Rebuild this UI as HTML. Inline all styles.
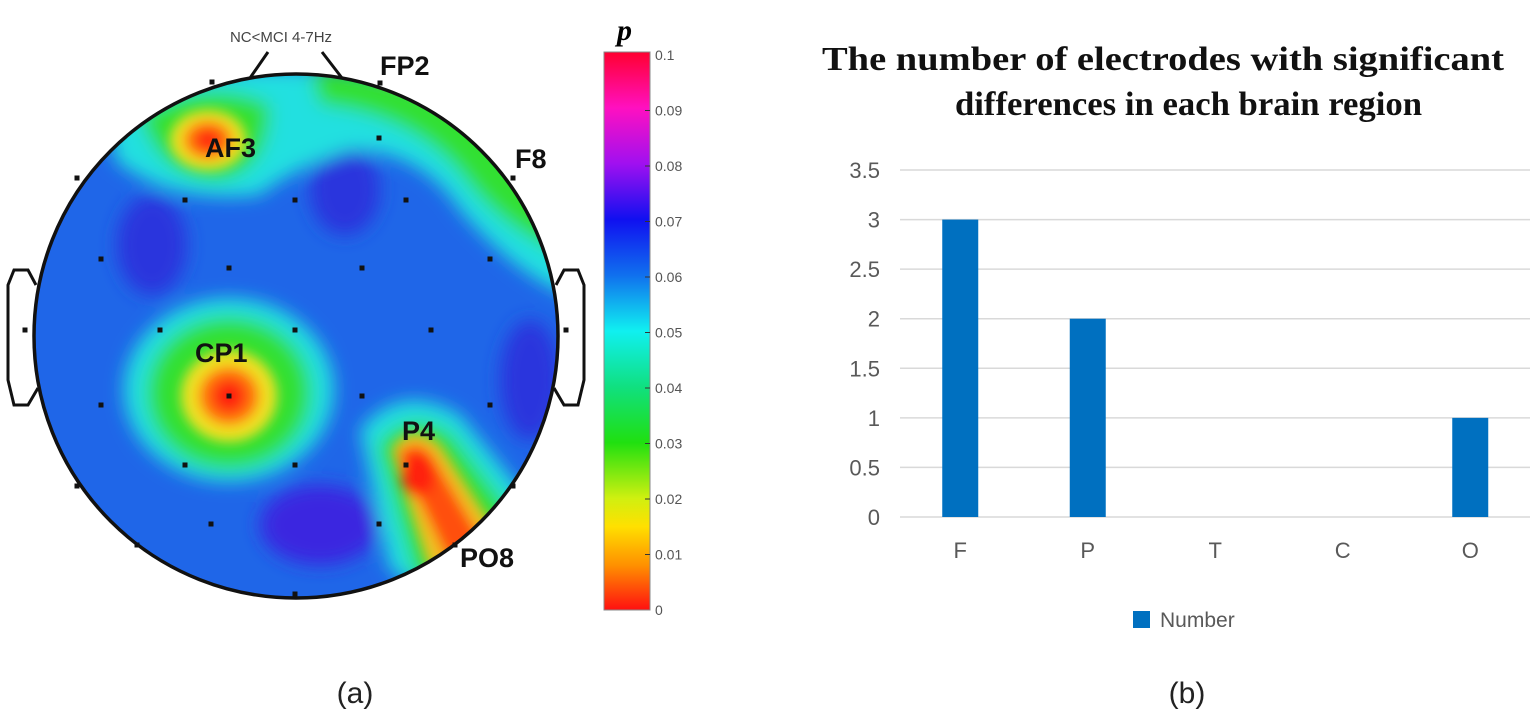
<!DOCTYPE html>
<html><head><meta charset="utf-8">
<style>
body{margin:0;background:#fff;width:1535px;height:727px;overflow:hidden;position:relative;font-family:"Liberation Sans",sans-serif}
svg{position:absolute;left:0;top:0}
</style></head>
<body>
<svg width="1535" height="727">
<defs>
<clipPath id="head"><circle cx="296" cy="336" r="262"/></clipPath>
<filter id="b1" x="-50%" y="-50%" width="200%" height="200%"><feGaussianBlur stdDeviation="9"/></filter>
<filter id="b2" x="-50%" y="-50%" width="200%" height="200%"><feGaussianBlur stdDeviation="6"/></filter>
<linearGradient id="cbar" x1="0" y1="0" x2="0" y2="1">
<stop offset="0" stop-color="#ff0030"/><stop offset="0.1" stop-color="#ff10c0"/><stop offset="0.2" stop-color="#a010f0"/>
<stop offset="0.3" stop-color="#1010f0"/><stop offset="0.4" stop-color="#1070ee"/><stop offset="0.5" stop-color="#10f0f0"/>
<stop offset="0.6" stop-color="#10e080"/><stop offset="0.7" stop-color="#20e010"/><stop offset="0.8" stop-color="#d0f010"/>
<stop offset="0.85" stop-color="#ffe000"/><stop offset="0.92" stop-color="#ff9000"/><stop offset="1" stop-color="#ff1010"/>
</linearGradient>
</defs>
<path d="M36,285 L28,270 L14,270 L8,285 L8,380 L14,405 L28,405 L38,388" fill="none" stroke="#111" stroke-width="3"/>
<path d="M556,285 L564,270 L578,270 L584,285 L584,380 L578,405 L564,405 L554,388" fill="none" stroke="#111" stroke-width="3"/>
<path d="M250,78 L268,52 M322,52 L342,78" stroke="#111" stroke-width="3" fill="none"/>
<g clip-path="url(#head)">
<rect x="30" y="70" width="540" height="540" fill="#1f66e8"/>
<g filter="url(#b1)">
<ellipse cx="152" cy="245" rx="35" ry="50" fill="#2a34dd"/>
<ellipse cx="345" cy="190" rx="35" ry="45" fill="#2a34dd"/>
<ellipse cx="320" cy="525" rx="60" ry="40" fill="#3a28e0"/>
<ellipse cx="530" cy="380" rx="30" ry="60" fill="#2a34dd"/>
<path d="M110,120 Q200,60 300,70 Q440,60 560,170 L580,300 Q520,280 460,210 Q420,150 350,150 Q290,170 260,195 Q170,205 115,160 Z" fill="#20e0e0"/>
<ellipse cx="229" cy="390" rx="105" ry="92" fill="#20e0e0"/>
<path d="M360,430 Q400,380 460,415 L545,520 L470,620 L390,570 Z" fill="#20e0e0"/>
<path d="M140,115 Q210,75 270,105 Q270,170 220,180 Q160,180 140,115 Z" fill="#30e030"/>
<path d="M310,70 Q430,65 545,160 L580,260 Q515,240 470,185 Q420,115 320,105 Z" fill="#30e030"/>
<ellipse cx="229" cy="393" rx="82" ry="76" fill="#30e030"/>
<path d="M378,445 Q410,405 452,435 L525,530 L460,610 L415,575 Z" fill="#30e030"/>
</g>
<g filter="url(#b2)">
<ellipse cx="208" cy="140" rx="38" ry="30" fill="#f0e020"/>
<ellipse cx="229" cy="396" rx="48" ry="46" fill="#f0e020"/>
<path d="M392,450 Q410,420 440,445 L505,545 L460,595 L428,565 Z" fill="#f0c020"/>
<path d="M380,80 Q460,95 525,165 L570,210 L560,140 L450,65 Z" fill="#f0b020"/>
<path d="M420,70 L560,150 L570,120 L450,50 Z" fill="#ff3010"/>
<ellipse cx="208" cy="140" rx="24" ry="19" fill="#ff7010"/>
<ellipse cx="229" cy="396" rx="30" ry="29" fill="#ff7010"/>
<path d="M398,455 Q415,435 432,455 L485,545 L455,575 Z" fill="#ff5010"/>
<ellipse cx="208" cy="140" rx="12" ry="10" fill="#ff2010"/>
<ellipse cx="229" cy="396" rx="16" ry="16" fill="#ff2010"/>
<ellipse cx="418" cy="475" rx="17" ry="22" fill="#ff2010"/>
</g>
</g>
<circle cx="296" cy="336" r="262" fill="none" stroke="#111" stroke-width="3.5"/>
<g id="dots"></g>
<g font-family="Liberation Sans" font-weight="bold" font-size="27" fill="#111">
<text x="205" y="157">AF3</text>
<text x="380" y="75">FP2</text>
<text x="515" y="168">F8</text>
<text x="195" y="362">CP1</text>
<text x="402" y="440">P4</text>
<text x="460" y="567">PO8</text>
</g>
<text x="281" y="42" font-size="15" fill="#444" text-anchor="middle">NC&lt;MCI 4-7Hz</text>
<text x="617" y="40" font-family="Liberation Serif" font-style="italic" font-weight="bold" font-size="30">p</text>
<rect x="604" y="52" width="46" height="558" fill="url(#cbar)" stroke="#888"/>
<g id="cbticks" font-size="14" fill="#555"></g>
<text x="355" y="703" font-size="30" text-anchor="middle" fill="#222">(a)</text>
<g font-family="Liberation Serif" font-weight="bold" font-size="34" fill="#111">
<text x="822" y="70" textLength="682" lengthAdjust="spacingAndGlyphs">The number of electrodes with significant</text>
<text x="955" y="115" textLength="467" lengthAdjust="spacingAndGlyphs">differences in each brain region</text></g>
<g id="chart"></g>
<rect x="1133" y="611" width="17" height="17" fill="#0070c0"/>
<text x="1160" y="627" font-size="21" fill="#595959">Number</text>
<text x="1187" y="703" font-size="30" text-anchor="middle" fill="#222">(b)</text>
</svg>
<script>
const categories=["F","P","T","C","O"];
const values=[3,2,0,0,1];
const yTicks=[0,0.5,1,1.5,2,2.5,3,3.5];
const cbLabels=["0.1","0.09","0.08","0.07","0.06","0.05","0.04","0.03","0.02","0.01","0"];
const electrodes=[[212,82],[380,83],[379,138],[77,178],[185,200],[295,200],[406,200],[513,178],[101,259],[229,268],[362,268],[490,259],[25,330],[160,330],[295,330],[431,330],[566,330],[101,405],[229,396],[362,396],[490,405],[77,486],[185,465],[295,465],[406,465],[513,486],[211,524],[379,524],[137,545],[455,545],[295,594]];
const NS="http://www.w3.org/2000/svg";
function mk(t,a,p){const e=document.createElementNS(NS,t);for(const k in a)e.setAttribute(k,a[k]);p.appendChild(e);return e;}
const dg=document.getElementById('dots');
electrodes.forEach(p=>{const c=mk('rect',{x:p[0]-2.5,y:p[1]-2.5,width:5,height:5,fill:'#111'},dg);

});
const cb=document.getElementById('cbticks');
cbLabels.forEach((l,i)=>{const y=55+i*55.5;const t=mk('text',{x:655,y:y+5},cb);t.textContent=l;


if(i>0&&i<10){mk('line',{x1:645,x2:650,y1:y,y2:y,stroke:'#333'},cb);}});
const g=document.getElementById('chart');
const x0=896.5,bw=127.5,y0=517,yMax=3.5,yTop=170;
const Y=v=>y0-(v/yMax)*(y0-yTop);
const X=i=>x0+bw*(i+0.5);
yTicks.forEach(v=>{const l=mk('line',{x1:900,x2:1530,y1:Y(v),y2:Y(v),stroke:'#d9d9d9','stroke-width':1.5},g);


const t=mk('text',{x:880,y:Y(v)+8,'text-anchor':'end','font-size':22,fill:'#595959'},g);t.textContent=v;

});
categories.forEach((c,i)=>{const r=mk('rect',{x:X(i)-18,y:Y(values[i]),width:36,height:y0-Y(values[i]),fill:'#0070c0'},g);


const t=mk('text',{x:X(i),y:558,'text-anchor':'middle','font-size':22,fill:'#595959'},g);t.textContent=c;

});
</script>
</body></html>
